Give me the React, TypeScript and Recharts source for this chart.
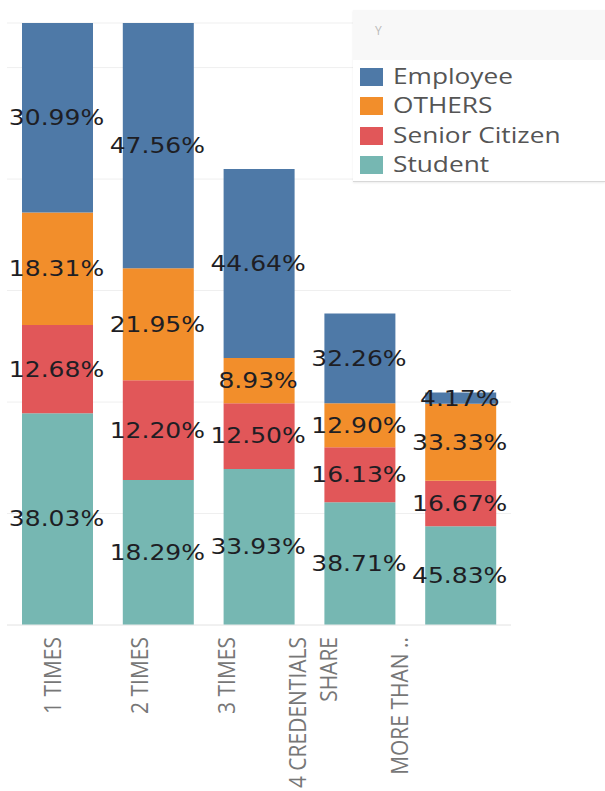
import React from 'react';
import { BarChart, Bar, XAxis, YAxis, CartesianGrid, LabelList } from 'recharts';

// categories and axis tick text
const categories = ['1 TIMES', '2 TIMES', '3 TIMES', '4 CREDENTIALS SHARE', 'MORE THAN ..'];
const tickLines = [['1 TIMES'], ['2 TIMES'], ['3 TIMES'], ['4 CREDENTIALS', 'SHARE'], ['MORE THAN ..']];

// segment sizes (bottom to top)
const student = [38.0, 26.0, 28.0, 22.0, 17.7];
const senior = [15.8, 17.9, 11.8, 9.9, 8.2];
const others = [20.2, 20.1, 8.1, 7.9, 13.8];
const employee = [34.0, 44.0, 33.9, 16.1, 2.0];

// percent labels shown on each segment
const studentPct = ['38.03%', '18.29%', '33.93%', '38.71%', '45.83%'];
const seniorPct = ['12.68%', '12.20%', '12.50%', '16.13%', '16.67%'];
const othersPct = ['18.31%', '21.95%', '8.93%', '12.90%', '33.33%'];
const employeePct = ['30.99%', '47.56%', '44.64%', '32.26%', '4.17%'];

const series = [
    { key: 'Student', pct: 'studentPct', color: '#76b7b2' },
    { key: 'Senior Citizen', pct: 'seniorPct', color: '#e15759' },
    { key: 'OTHERS', pct: 'othersPct', color: '#f28e2b' },
    { key: 'Employee', pct: 'employeePct', color: '#4e79a7' },
];

const data = categories.map((name, i) => ({
    name,
    Student: student[i],
    'Senior Citizen': senior[i],
    OTHERS: others[i],
    Employee: employee[i],
    studentPct: studentPct[i],
    seniorPct: seniorPct[i],
    othersPct: othersPct[i],
    employeePct: employeePct[i],
}));

const PctLabel = (props: any) => {
    const { x, y, width, height, value } = props;
    const cx = Number(x) + Number(width) / 2;
    const cy = Number(y) + Number(height) / 2;
    return (
        <text
            transform={`translate(${cx - 1},${cy}) scale(1.22,1)`}
            textAnchor="middle"
            dy="0.36em"
            fontFamily="DejaVu Sans, Verdana, sans-serif"
            fontSize={20.5}
            fill="#1e1e24"
        >
            {value}
        </text>
    );
};

const CategoryTick = (props: any) => {
    const { x, y, index } = props;
    const lines = tickLines[index] || [];
    const shift = -5 - index * 14; // labels drift left in the source picture
    const n = lines.length;
    return (
        <g transform={`translate(${x + shift},${y + 4}) scale(1.15,1) rotate(-90)`}>
            {lines.map((line, i) => (
                <text
                    key={i}
                    x={0}
                    y={(i - (n - 1) / 2) * 27.8}
                    dy="0.36em"
                    textAnchor="end"
                    fontFamily="Open Sans, sans-serif"
                    fontSize={21}
                    fill="#777"
                >
                    {line}
                </text>
            ))}
        </g>
    );
};

const legendOrder = ['Employee', 'OTHERS', 'Senior Citizen', 'Student'];

const LegendBox = () => (
    <div
        style={{
            position: 'absolute',
            top: 10,
            left: 353,
            width: 252,
            height: 171,
            background: '#fff',
            borderBottom: '1px solid #d8d8d8',
            boxShadow: '0 1px 2px rgba(0,0,0,0.08)',
            fontFamily: 'Open Sans, sans-serif',
        }}
    >
        <div style={{ height: 50, background: '#f8f8f8', position: 'relative' }}>
            <span style={{ position: 'absolute', left: 22, top: 12, fontSize: 12, color: '#bbb' }}>Y</span>
        </div>
        <div style={{ paddingTop: 2 }}>
            {legendOrder.map(k => {
                const s = series.find(x => x.key === k)!;
                return (
                    <div key={k} style={{ height: 29.3, position: 'relative' }}>
                        <div style={{ position: 'absolute', left: 7, top: 6, width: 23, height: 18, background: s.color }} />
                        <span
                            style={{
                                position: 'absolute',
                                left: 40,
                                top: 0,
                                lineHeight: '29px',
                                fontSize: 21,
                                color: '#555',
                                transform: 'scaleX(1.25)',
                                transformOrigin: 'left center',
                                whiteSpace: 'nowrap',
                            }}
                        >
                            {k}
                        </span>
                    </div>
                );
            })}
        </div>
    </div>
);

export default function App() {
    return (
        <div style={{ width: 605, height: 791, background: '#fff', position: 'relative' }}>
            <style>{`body{margin:0;background:#fff}`}</style>
            <BarChart width={605} height={791} data={data} margin={{ top: 23, right: 94, left: 7, bottom: 0 }} barSize={71}>
                <CartesianGrid vertical={false} stroke="#efefef" />
                <YAxis hide domain={[0, 108]} ticks={[0, 20, 40, 60, 80, 100]} />
                <XAxis
                    dataKey="name"
                    interval={0}
                    tickLine={false}
                    axisLine={{ stroke: '#eaeaea' }}
                    height={166}
                    tick={<CategoryTick />}
                />
                {series.map(s => (
                    <Bar key={s.key} dataKey={s.key} stackId="a" fill={s.color} isAnimationActive={false}>
                        <LabelList dataKey={s.pct} content={<PctLabel />} />
                    </Bar>
                ))}
            </BarChart>
            <LegendBox />
        </div>
    );
}
